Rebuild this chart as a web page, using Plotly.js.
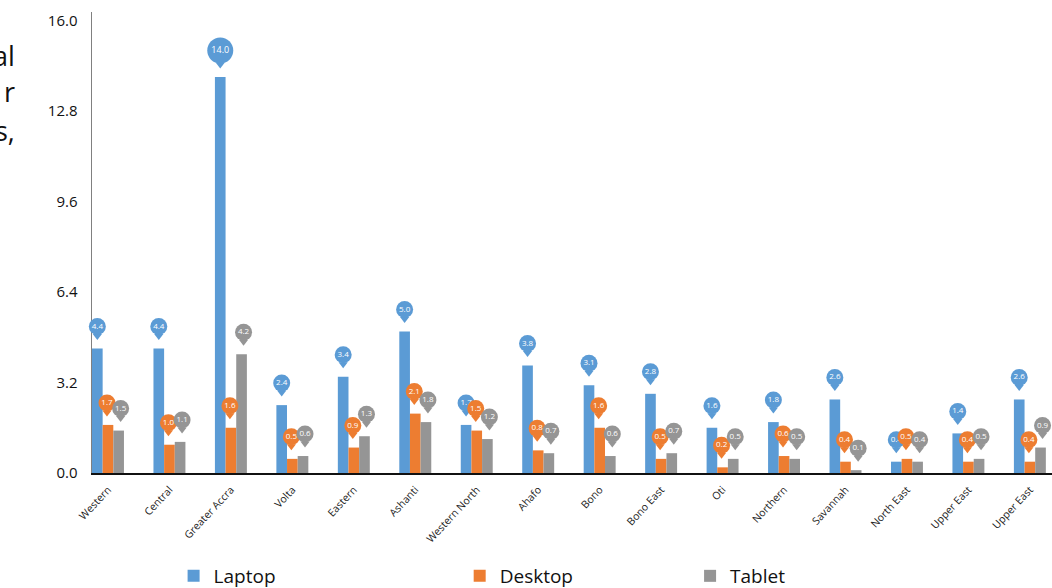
<!DOCTYPE html>
<html>
<head>
<meta charset="utf-8">
<script src="https://cdn.plot.ly/plotly-3.0.1.min.js"></script>
<style>
  html, body { margin: 0; padding: 0; background: #ffffff; }
  #chart { width: 1052px; height: 588px; }
</style>
</head>
<body>
<div id="chart"></div>
<script>
// Regions (the last region is labelled "Upper East" as in the source table)
const categories = ['Western', 'Central', 'Greater Accra', 'Volta', 'Eastern', 'Ashanti',
  'Western North', 'Ahafo', 'Bono', 'Bono East', 'Oti', 'Northern', 'Savannah',
  'North East', 'Upper East', 'Upper East'];

// Share of devices per region (%)
const laptop  = [4.4, 4.4, 14.0, 2.4, 3.4, 5.0, 1.7, 3.8, 3.1, 2.8, 1.6, 1.8, 2.6, 0.4, 1.4, 2.6];
const desktop = [1.7, 1.0, 1.6, 0.5, 0.9, 2.1, 1.5, 0.8, 1.6, 0.5, 0.2, 0.6, 0.4, 0.5, 0.4, 0.4];
const tablet  = [1.5, 1.1, 4.2, 0.6, 1.3, 1.8, 1.2, 0.7, 0.6, 0.7, 0.5, 0.5, 0.1, 0.4, 0.5, 0.9];

const seriesNames = ['Laptop', 'Desktop', 'Tablet'];
const yTickValues = [0, 3.2, 6.4, 9.6, 12.8, 16.0];

const colors = ['#5b9bd5', '#ed7d31', '#959595'];
const FONT = '"Open Sans", "Noto Sans", sans-serif';

// geometry used to place the value callouts above each bar
const W = 1052, H = 588;
const margin = { l: 92, r: 0, t: 12, b: 115, autoexpand: false };
const xRange = [-0.26, 15.36];
const yMax = 16.3;
const plotW = W - margin.l - margin.r;
const plotH = H - margin.t - margin.b;
const pxPerUnitY = plotH / yMax;
const pxPerUnitX = plotW / (xRange[1] - xRange[0]);
const bargap = 0.48;
const barW = (1 - bargap) / 3;
const calloutNudgePx = [0, -1, 2];   // small sideways nudge per series so badges don't collide

const idx = categories.map((_, i) => i);
const series = [laptop, desktop, tablet];
const legendIds = ['legend', 'legend2', 'legend3'];

const traces = [];

// bars
series.forEach((vals, k) => {
  traces.push({
    type: 'bar',
    name: seriesNames[k],
    x: idx,
    y: vals,
    marker: { color: colors[k], line: { width: 0 } },
    legend: legendIds[k],
    hoverinfo: 'x+y+name'
  });
});

// callouts: a pointer plus a round badge holding the value
const callouts = series.map((vals, k) => {
  const xs = idx.map(i => i + (k - 1) * barW + calloutNudgePx[k] / pxPerUnitX);
  const labels = vals.map(v => v.toFixed(1));
  const sizes = labels.map(t => (t.length > 3 ? 26 : 17));
  const cy = vals.map((v, j) => v + (sizes[j] / 2 + 13.5) / pxPerUnitY);
  const py = cy.map((c, j) => c - (sizes[j] / 2 + 1) / pxPerUnitY);
  return { xs, labels, sizes, cy, py };
});

// pointers first, then the badges, so badges sit on top
callouts.forEach((c, k) => {
  traces.push({
    type: 'scatter',
    mode: 'markers',
    x: c.xs,
    y: c.py,
    marker: { symbol: 'triangle-down', size: 8, color: colors[k], opacity: 1, line: { width: 0 } },
    showlegend: false,
    hoverinfo: 'skip',
    cliponaxis: false
  });
});
callouts.forEach((c, k) => {
  traces.push({
    type: 'scatter',
    mode: 'markers+text',
    x: c.xs,
    y: c.cy,
    text: c.labels,
    textposition: 'middle center',
    textfont: { family: FONT, size: c.labels.map(t => (t.length > 3 ? 9 : 8)), color: '#ffffff' },
    marker: { symbol: 'circle', size: c.sizes, color: colors[k], opacity: 1, line: { width: 0 } },
    showlegend: false,
    hoverinfo: 'skip',
    cliponaxis: false
  });
});

const legendBase = {
  orientation: 'h',
  xref: 'paper', yref: 'paper',
  xanchor: 'left', yanchor: 'middle',
  y: -0.2234,
  bgcolor: 'rgba(0,0,0,0)',
  font: { family: FONT, size: 19, color: '#111111' }
};

// cut-off running text at the left edge of the page
const sideText = [
  { text: 'al', y: 0.905 },
  { text: 'r', y: 0.828 },
  { text: 's,', y: 0.742 }
];

const layout = {
  width: W,
  height: H,
  margin: margin,
  paper_bgcolor: '#ffffff',
  plot_bgcolor: '#ffffff',
  font: { family: FONT, color: '#111111' },
  barmode: 'group',
  bargap: bargap,
  bargroupgap: 0,
  xaxis: {
    range: xRange,
    tickmode: 'array',
    tickvals: idx,
    ticktext: categories,
    tickangle: -47,
    tickfont: { family: FONT, size: 10.5, color: '#222222' },
    ticks: '',
    ticklabelstandoff: 5,
    showline: true,
    linecolor: '#111111',
    linewidth: 1.5,
    showgrid: false,
    zeroline: false,
    fixedrange: true
  },
  yaxis: {
    range: [0, yMax],
    tickmode: 'array',
    tickvals: yTickValues,
    ticktext: yTickValues.map(v => v.toFixed(1)),
    tickfont: { family: FONT, size: 15, color: '#111111' },
    ticks: '',
    ticklabelstandoff: 10,
    showline: true,
    linecolor: '#808080',
    linewidth: 1.5,
    layer: 'below traces',
    showgrid: false,
    zeroline: false,
    fixedrange: true
  },
  legend:  Object.assign({}, legendBase, { x: 0.085 }),
  legend2: Object.assign({}, legendBase, { x: 0.383 }),
  legend3: Object.assign({}, legendBase, { x: 0.623 }),
  annotations: sideText.map(s => ({
    xref: 'paper', yref: 'paper',
    x: -0.0781, y: s.y,
    xanchor: 'right', yanchor: 'middle',
    text: s.text,
    showarrow: false,
    font: { family: FONT, size: 27, color: '#111111' }
  })),
  showlegend: true
};

Plotly.newPlot('chart', traces, layout, { displayModeBar: false, staticPlot: true });
</script>
</body>
</html>
